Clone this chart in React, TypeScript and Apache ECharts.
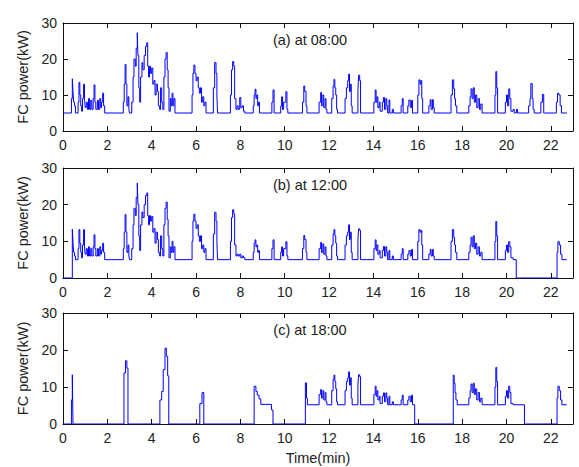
import React, { useEffect, useRef } from "react";
import * as echarts from "echarts";

// Fuel-cell output power over a 23-minute drive, sample-and-hold [time (min), power (kW)]
const powerAt0800: [number, number][] = [
  [0, 5], [0.38, 9], [0.42, 14.5], [0.45, 11], [0.48, 8], [0.52, 7], [0.56, 5],
  [0.68, 8], [0.72, 13.5], [0.76, 10], [0.8, 7], [0.84, 5.5],
  [0.88, 9], [0.93, 13], [0.97, 9], [1.0, 6.5], [1.05, 8], [1.1, 6], [1.15, 9], [1.2, 6], [1.25, 8.5], [1.3, 6],
  [1.36, 9], [1.4, 12.8], [1.44, 8], [1.48, 6], [1.55, 8.5], [1.6, 6], [1.66, 9], [1.7, 6.5], [1.74, 8], [1.79, 10.5], [1.83, 7], [1.88, 5],
  [2.72, 8], [2.76, 13], [2.8, 18.5], [2.84, 13], [2.88, 7], [2.93, 9.5], [2.97, 6], [3.0, 5],
  [3.1, 8], [3.16, 15], [3.2, 20], [3.26, 18], [3.3, 23], [3.35, 27.3], [3.38, 21], [3.42, 12], [3.46, 8],
  [3.5, 15], [3.56, 19], [3.6, 17], [3.66, 21], [3.72, 23.5], [3.78, 24.5], [3.82, 18], [3.86, 15], [3.9, 18], [3.95, 16],
  [4.0, 17.5], [4.05, 13], [4.1, 14], [4.15, 10], [4.2, 13], [4.26, 11], [4.3, 7], [4.36, 6], [4.4, 12], [4.45, 8], [4.5, 6],
  [4.55, 15], [4.6, 20], [4.65, 21.8], [4.7, 17], [4.74, 12], [4.78, 5.5], [4.84, 9], [4.88, 7], [4.92, 10.5], [4.96, 7], [5.0, 9], [5.05, 5],
  [5.82, 10], [5.86, 16], [5.9, 18.3], [5.95, 16], [6.0, 14], [6.05, 15], [6.1, 12], [6.15, 10.5], [6.2, 12], [6.25, 8], [6.3, 9.5], [6.35, 7], [6.4, 8], [6.45, 5],
  [6.78, 12], [6.84, 19], [6.9, 16], [6.94, 10], [6.97, 5],
  [7.55, 10], [7.6, 17], [7.65, 19.3], [7.7, 18], [7.74, 9], [7.8, 6], [7.85, 7], [7.9, 6], [7.97, 9.3], [8.02, 6.5], [8.08, 7], [8.14, 5.5], [8.2, 5],
  [8.58, 7], [8.62, 10], [8.66, 11.6], [8.7, 9], [8.74, 10], [8.78, 7], [8.82, 8], [8.86, 5],
  [9.42, 8], [9.47, 11.4], [9.52, 5],
  [9.82, 7], [9.86, 9.5], [9.9, 6], [9.95, 8], [10.05, 10.9], [10.1, 6], [10.14, 5],
  [10.8, 8], [10.86, 12.5], [10.9, 11], [10.96, 7], [11.0, 5],
  [11.55, 8], [11.62, 10.7], [11.66, 7], [11.72, 10], [11.76, 6.5], [11.82, 9], [11.86, 6], [11.9, 5],
  [12.12, 9], [12.18, 12.5], [12.22, 14.3], [12.26, 12], [12.3, 10], [12.34, 6], [12.38, 5],
  [12.72, 9], [12.78, 12], [12.84, 14], [12.88, 15.8], [12.92, 11], [12.96, 13], [13.0, 7], [13.04, 5],
  [13.3, 11], [13.33, 15.5], [13.38, 14], [13.42, 5],
  [14.02, 8], [14.08, 11.4], [14.12, 8], [14.16, 9.5], [14.2, 6.5], [14.26, 8], [14.3, 5.5],
  [14.4, 8], [14.45, 9.3], [14.5, 6], [14.56, 9], [14.6, 7], [14.64, 5], [14.7, 8.6], [14.74, 5], [14.85, 6], [14.9, 5],
  [15.25, 7], [15.3, 9], [15.34, 5], [15.55, 7], [15.6, 8.6], [15.66, 6.5], [15.72, 8.5], [15.76, 5],
  [16.0, 10], [16.05, 14.2], [16.1, 13], [16.14, 14], [16.18, 9], [16.22, 5],
  [16.5, 7], [16.56, 8.7], [16.6, 6], [16.66, 8.7], [16.7, 6.5], [16.74, 5],
  [17.5, 10], [17.56, 14.2], [17.62, 11.7], [17.66, 9], [17.7, 7], [17.76, 5],
  [18.3, 7], [18.36, 9.5], [18.4, 11.7], [18.45, 9], [18.5, 12], [18.55, 8], [18.6, 10], [18.66, 6.5], [18.72, 9], [18.78, 6], [18.84, 7.5], [18.9, 5],
  [19.48, 10], [19.52, 16.5], [19.56, 12], [19.6, 5],
  [19.95, 8], [20.0, 10], [20.05, 7], [20.1, 11.7], [20.15, 9], [20.2, 5.5], [20.3, 6], [20.35, 5], [20.45, 6], [20.5, 5],
  [21.0, 7], [21.06, 9], [21.1, 13.2], [21.16, 9], [21.2, 6], [21.25, 5],
  [21.55, 8], [21.62, 10.2], [21.68, 5],
  [22.25, 8], [22.3, 10.5], [22.36, 10], [22.42, 7], [22.48, 5], [22.72, 5],
];

const powerAt1200: [number, number][] = [
  [0, 0], [0.42, 13.3], [0.45, 9.7], [0.48, 7], [0.52, 6], [0.56, 5],
  [0.68, 8], [0.72, 13.2], [0.76, 9.5], [0.8, 7], [0.84, 5.5],
  [0.88, 9], [0.93, 13.2], [0.97, 8.5], [1.0, 6.5], [1.05, 8], [1.1, 6], [1.15, 8.5], [1.2, 6], [1.25, 8], [1.3, 6],
  [1.36, 8.5], [1.4, 11.8], [1.44, 8], [1.48, 6], [1.55, 8], [1.6, 6], [1.66, 8.5], [1.7, 6.5], [1.74, 7.5], [1.79, 9.5], [1.83, 7], [1.88, 5],
  [2.72, 8], [2.76, 12.5], [2.8, 17.3], [2.84, 12.5], [2.88, 7], [2.93, 9], [2.97, 6], [3.0, 5],
  [3.1, 8], [3.16, 14.5], [3.2, 19], [3.26, 17], [3.3, 22], [3.35, 25.9], [3.38, 20], [3.42, 11.5], [3.46, 7.5],
  [3.5, 14.5], [3.56, 18], [3.6, 16.5], [3.66, 20], [3.72, 22.5], [3.78, 23.2], [3.82, 17], [3.86, 14.5], [3.9, 17], [3.95, 15.5],
  [4.0, 16.8], [4.05, 12.5], [4.1, 13.5], [4.15, 9.5], [4.2, 12.5], [4.26, 10.5], [4.3, 7], [4.36, 6], [4.4, 11.5], [4.45, 8], [4.5, 6],
  [4.55, 14.5], [4.6, 19], [4.65, 20.7], [4.7, 16], [4.74, 11.5], [4.78, 5.5], [4.84, 8.5], [4.88, 7], [4.92, 10], [4.96, 7], [5.0, 8.5], [5.05, 5],
  [5.82, 10], [5.86, 15.5], [5.9, 17.4], [5.95, 15.5], [6.0, 13.5], [6.05, 14.5], [6.1, 11.5], [6.15, 10], [6.2, 11.5], [6.25, 8], [6.3, 9], [6.35, 7], [6.4, 8], [6.45, 5],
  [6.78, 12], [6.84, 17.9], [6.9, 15.5], [6.94, 10], [6.97, 5],
  [7.55, 10], [7.6, 16.5], [7.65, 18.6], [7.7, 17.5], [7.74, 9], [7.8, 6], [7.85, 6.5], [7.9, 6], [7.97, 6.5], [8.02, 5.5], [8.08, 6], [8.14, 5.5], [8.2, 5],
  [8.58, 7], [8.62, 9.5], [8.66, 10.4], [8.7, 8.5], [8.74, 9], [8.78, 7], [8.82, 7.5], [8.86, 5],
  [9.42, 8], [9.47, 10.4], [9.52, 5],
  [9.82, 7], [9.86, 8.5], [9.9, 6], [9.95, 8], [10.05, 9.9], [10.1, 6], [10.14, 5],
  [10.8, 8], [10.86, 11.6], [10.9, 10.5], [10.96, 7], [11.0, 5],
  [11.55, 8], [11.62, 9.7], [11.66, 7], [11.72, 9.3], [11.76, 6.5], [11.82, 8.5], [11.86, 6], [11.9, 5],
  [12.12, 9], [12.18, 12], [12.22, 13.2], [12.26, 11.5], [12.3, 9.5], [12.34, 6], [12.38, 5],
  [12.72, 9], [12.78, 11.5], [12.84, 12.5], [12.88, 14.5], [12.92, 10.5], [12.96, 12.5], [13.0, 7], [13.04, 5],
  [13.3, 10.5], [13.33, 13.4], [13.38, 13], [13.42, 5],
  [14.02, 8], [14.08, 10.4], [14.12, 7.5], [14.16, 9], [14.2, 6.5], [14.26, 7.5], [14.3, 5.5],
  [14.4, 7.5], [14.45, 8.6], [14.5, 6], [14.56, 8.5], [14.6, 7], [14.64, 5], [14.7, 7.5], [14.74, 5], [14.85, 6], [14.9, 5],
  [15.25, 6.5], [15.3, 8], [15.34, 5], [15.55, 6.5], [15.6, 7.5], [15.66, 6], [15.72, 7.8], [15.76, 5],
  [16.0, 10], [16.05, 13.2], [16.1, 12.5], [16.14, 13], [16.18, 9], [16.22, 5],
  [16.5, 6.5], [16.56, 7.8], [16.6, 6], [16.66, 7.8], [16.7, 6], [16.74, 5],
  [17.5, 10], [17.56, 13.2], [17.62, 11], [17.66, 9], [17.7, 7], [17.76, 5],
  [18.3, 7], [18.36, 9], [18.4, 11.1], [18.45, 8.5], [18.5, 11.5], [18.55, 8], [18.6, 9.5], [18.66, 6.5], [18.72, 8.5], [18.78, 6], [18.84, 7], [18.9, 5],
  [19.48, 10], [19.52, 15.4], [19.56, 11.5], [19.6, 5],
  [19.95, 7.5], [20.0, 9], [20.05, 7], [20.1, 9.9], [20.15, 8.5], [20.2, 5.5], [20.3, 5],
  [20.44, 0], [22.28, 7], [22.32, 9.9], [22.38, 9], [22.44, 6.5], [22.5, 5], [22.72, 5],
];

const powerAt1800: [number, number][] = [
  [0, 0], [0.38, 6.5], [0.42, 13.3], [0.45, 0],
  [2.75, 13.8], [2.82, 17.1], [2.88, 15.1], [2.93, 0],
  [4.37, 6.5], [4.45, 8.8], [4.52, 14.7], [4.6, 20.5], [4.66, 18.3], [4.72, 13], [4.77, 0],
  [6.17, 5.5], [6.27, 8.5], [6.35, 0],
  [8.62, 10.2], [8.7, 8.8], [8.76, 7.8], [8.84, 6.8], [8.92, 5.3], [9.4, 3.8], [9.47, 0],
  [10.93, 11.1], [10.98, 7], [11.02, 5.2],
  [11.55, 8], [11.62, 9.3], [11.66, 7], [11.72, 9], [11.76, 6.5], [11.82, 8.5], [11.86, 6], [11.9, 5.2],
  [12.12, 9], [12.18, 12], [12.22, 13.2], [12.26, 11.5], [12.3, 9.5], [12.34, 6], [12.38, 5.2],
  [12.72, 9], [12.78, 11.5], [12.84, 12.5], [12.88, 14.1], [12.92, 10.5], [12.96, 12.5], [13.0, 7], [13.04, 5.2],
  [13.3, 10.5], [13.33, 13.3], [13.38, 12.8], [13.42, 5.2],
  [14.02, 8], [14.08, 10.2], [14.12, 7.5], [14.16, 9], [14.2, 6.5], [14.26, 7.5], [14.3, 5.5],
  [14.4, 7.5], [14.45, 8.4], [14.5, 6], [14.56, 8.4], [14.6, 7], [14.64, 5.2], [14.7, 7.5], [14.74, 5.2], [14.85, 6], [14.9, 5.2],
  [15.25, 6.5], [15.3, 7.8], [15.34, 5.2], [15.55, 6.5], [15.6, 7.5], [15.66, 6], [15.72, 7.8], [15.76, 5.2],
  [15.86, 0],
  [17.6, 13.2], [17.64, 11], [17.68, 8.5], [17.72, 6.5], [17.78, 5.2],
  [18.3, 7], [18.36, 9], [18.4, 10.8], [18.45, 8.5], [18.5, 11], [18.55, 8], [18.6, 9.5], [18.66, 6.5], [18.72, 8.5], [18.78, 6], [18.84, 7], [18.9, 5.2],
  [19.48, 10], [19.52, 15.3], [19.56, 11.5], [19.6, 5.2],
  [19.95, 7.5], [20.0, 9], [20.05, 7], [20.1, 10.2], [20.15, 8.5], [20.2, 5.5], [20.3, 5.2],
  [20.81, 0], [22.28, 7], [22.32, 10.2], [22.38, 9], [22.44, 6.5], [22.5, 5.2], [22.72, 5.2],
];

const panelSeries = [powerAt0800, powerAt1200, powerAt1800];
const panelTitles = ["(a) at 08:00", "(b) at 12:00", "(c) at 18:00"];

// axis ranges
const TIME_MAX = 23;
const TIME_STEP = 2;
const POWER_MAX = 30;
const POWER_STEP = 10;

const FONT = "'Liberation Sans', Arial, sans-serif";
const TEXT_COLOR = "#222";
const BOX_COLOR = "#111";
const LINE_COLOR = "#0000ff";

// layout of the three stacked panels
const PLOT_LEFT = 63;
const PLOT_WIDTH = 510;
const panelBoxes = [
  { top: 23, height: 108 },
  { top: 168, height: 110 },
  { top: 313, height: 111 },
];

function buildOption() {
  const grid = panelBoxes.map((b) => ({
    left: PLOT_LEFT,
    top: b.top,
    width: PLOT_WIDTH,
    height: b.height,
    containLabel: false,
  }));

  const boxLine = { show: true, onZero: false, lineStyle: { color: BOX_COLOR, width: 1 } };
  const tick = { show: true, inside: true, length: 5, lineStyle: { color: BOX_COLOR, width: 1 } };
  const label = { color: TEXT_COLOR, fontSize: 14, fontFamily: FONT };
  const nameStyle = { color: TEXT_COLOR, fontSize: 14.5, fontFamily: FONT };

  const xAxis: any[] = [];
  const yAxis: any[] = [];
  panelBoxes.forEach((_, i) => {
    const last = i === panelBoxes.length - 1;
    xAxis.push({
      type: "value",
      gridIndex: i,
      position: "bottom",
      min: 0,
      max: TIME_MAX,
      interval: TIME_STEP,
      axisLine: boxLine,
      axisTick: tick,
      splitLine: { show: false },
      axisLabel: { ...label, margin: 7, showMaxLabel: false },
      name: last ? "Time(min)" : "",
      nameLocation: "middle",
      nameGap: 26,
      nameTextStyle: nameStyle,
    });
    xAxis.push({
      type: "value",
      gridIndex: i,
      position: "top",
      min: 0,
      max: TIME_MAX,
      interval: TIME_STEP,
      axisLine: boxLine,
      axisTick: tick,
      splitLine: { show: false },
      axisLabel: { show: false },
    });
    yAxis.push({
      type: "value",
      gridIndex: i,
      position: "left",
      min: 0,
      max: POWER_MAX,
      interval: POWER_STEP,
      axisLine: boxLine,
      axisTick: tick,
      splitLine: { show: false },
      axisLabel: { ...label, margin: 6 },
      name: "FC power(kW)",
      nameLocation: "middle",
      nameRotate: 90,
      nameGap: 32,
      nameTextStyle: nameStyle,
    });
    yAxis.push({
      type: "value",
      gridIndex: i,
      position: "right",
      min: 0,
      max: POWER_MAX,
      interval: POWER_STEP,
      axisLine: boxLine,
      axisTick: tick,
      splitLine: { show: false },
      axisLabel: { show: false },
    });
  });

  const series = panelSeries.map((data, i) => ({
    type: "line",
    name: panelTitles[i],
    xAxisIndex: i * 2,
    yAxisIndex: i * 2,
    data,
    step: "end",
    symbol: "none",
    lineStyle: { color: LINE_COLOR, width: 1 },
    itemStyle: { color: LINE_COLOR },
    z: 3,
  }));

  // panel captions, centred a little left of the plot centre
  const graphic = panelTitles.map((t, i) => ({
    type: "text",
    x: 310,
    y: panelBoxes[i].top + 17,
    style: {
      text: t,
      fill: TEXT_COLOR,
      font: `14.5px ${FONT}`,
      textAlign: "center",
      textVerticalAlign: "middle",
    },
  }));

  return {
    animation: false,
    backgroundColor: "#ffffff",
    grid,
    xAxis,
    yAxis,
    series,
    graphic,
  };
}

export default function App() {
  const ref = useRef<HTMLDivElement>(null);
  useEffect(() => {
    if (!ref.current) return;
    const chart = echarts.init(ref.current, null, { renderer: "svg" });
    chart.setOption(buildOption() as any);
    return () => chart.dispose();
  }, []);
  return (
    <div
      ref={ref}
      style={{ position: "fixed", left: 0, top: 0, width: 579, height: 467, background: "#fff" }}
    />
  );
}
